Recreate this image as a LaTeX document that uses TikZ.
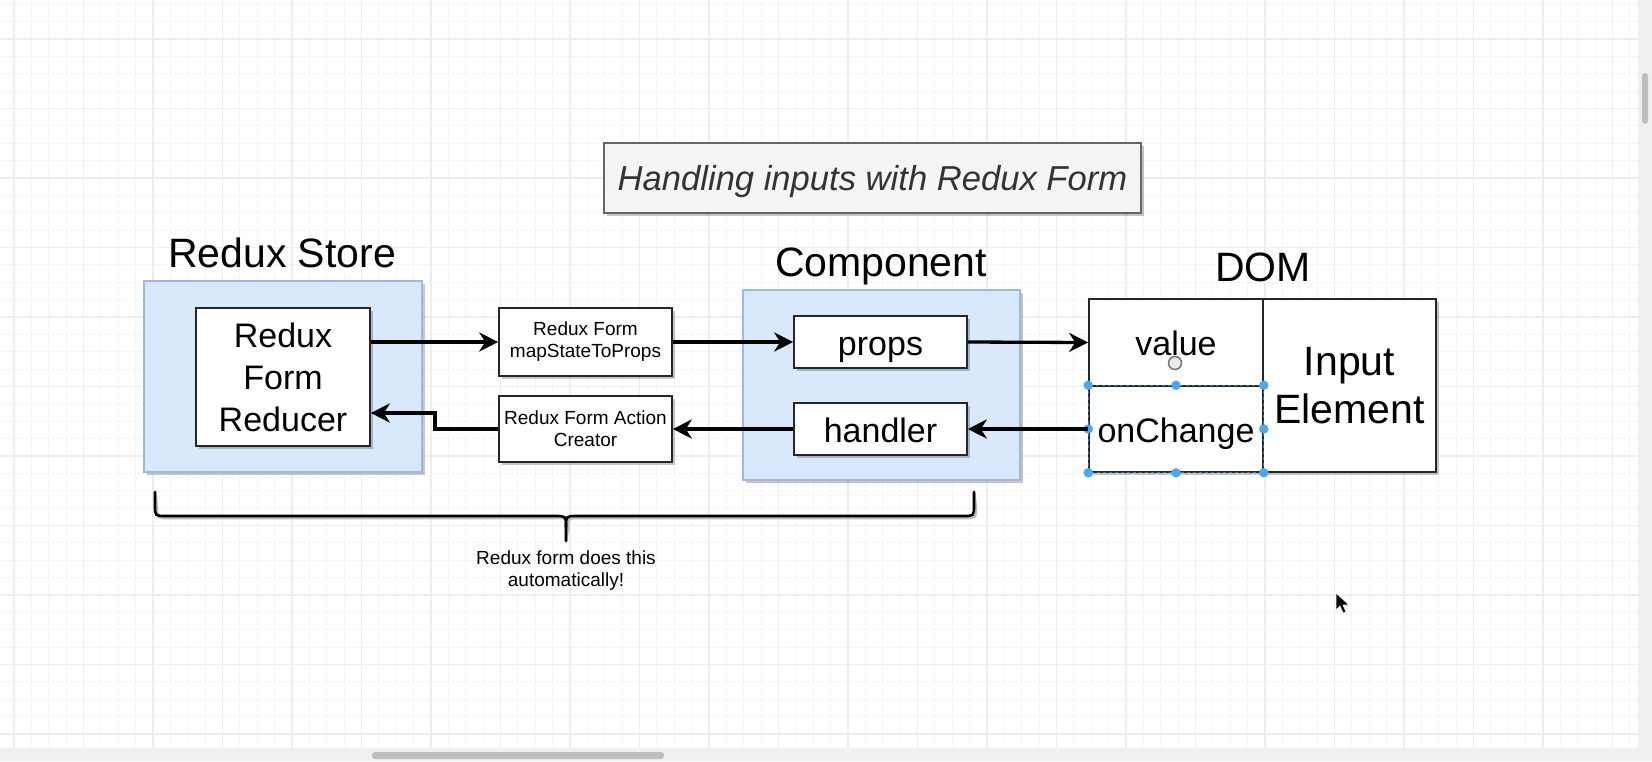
\documentclass[tikz,border=0pt]{standalone}
\usepackage{fontspec}
\setmainfont{Liberation Sans}
\usetikzlibrary{arrows.meta,shadows,calc}
\definecolor{bluefill}{HTML}{DAE8FC}
\definecolor{blueline}{HTML}{9DB9E0}
\definecolor{gridminor}{HTML}{F6F6F6}
\definecolor{gridmajor}{HTML}{EEEEEE}
\definecolor{selblue}{HTML}{4DA6F0}
\definecolor{titlegray}{HTML}{333333}
\begin{document}
\begin{tikzpicture}[x=1pt,y=-1pt,
  shad/.style={drop shadow={shadow xshift=3pt,shadow yshift=-3pt,opacity=.22,fill=black}},
  container/.style={draw=blueline,fill=bluefill,line width=1.4pt,inner sep=0pt,shad},
  whitebox/.style={draw=black!85,fill=white,line width=1.6pt,inner sep=0pt,align=center,shad},
  cell/.style={draw=black!85,line width=1.6pt,inner sep=0pt,align=center},
  bigtitle/.style={font=\fontsize{41}{48}\selectfont,anchor=base,inner sep=0pt},
  midtext/.style={font=\fontsize{34}{42}\selectfont},
  oneline/.style={text height=26pt,text depth=0pt},
  smalltext/.style={font=\fontsize{19}{22}\selectfont},
  flow/.style={line width=3.3pt,-{Stealth[length=19pt,width=19pt,inset=6pt]}},
  handle/.style={fill=selblue,draw=none,circle,minimum size=9.5pt,inner sep=0pt}
]
\useasboundingbox (0,0) rectangle (1652,761);
\fill[white] (0,0) rectangle (1652,761);
% grid
\begin{scope}
\clip (0,0) rectangle (1638,748);
\foreach \i in {0,...,96} {
  \draw[gridminor,line width=1pt] ({-3.375+17.375*\i},0) -- ({-3.375+17.375*\i},748);
}
\foreach \i in {0,...,44} {
  \draw[gridminor,line width=1pt] (0,{4.25+17.375*\i}) -- (1638,{4.25+17.375*\i});
}
\foreach \i in {0,...,24} {
  \draw[gridmajor,line width=1.2pt] ({14+69.5*\i},0) -- ({14+69.5*\i},748);
}
\foreach \i in {0,...,11} {
  \draw[gridmajor,line width=1.2pt] (0,{39+69.5*\i}) -- (1638,{39+69.5*\i});
}
\end{scope}
% scrollbars
\fill[black!6] (1638,0) rectangle (1652,748);
\fill[black!6] (0,748) rectangle (1652,761);
\fill[black!25,rounded corners=3pt] (1642,73) rectangle (1648,124);
\fill[black!25,rounded corners=3pt] (372,752) rectangle (664,759);

% title
\node[draw=black!60,fill=black!4,line width=1.3pt,shad,minimum width=537,minimum height=70,inner sep=0pt,
  text height=25pt,text depth=0pt,
  font=\fontsize{34.6}{40}\selectfont\itshape,text=titlegray] (title) at (872.5,178) {Handling inputs with Redux Form};

% containers
\node[container,minimum width=278,minimum height=191] (store) at (283,376.5) {};
\node[container,minimum width=277,minimum height=190] (comp) at (881.5,385) {};

% titles
\node[bigtitle] (storet) at (282,267) {Redux Store};
\node[bigtitle] (compt) at (881,276) {Component};
\node[bigtitle] (domt) at (1263,281) {DOM};

% boxes
\node[whitebox,midtext,minimum width=174,minimum height=138] (reducer) at (283,377) {Redux\\Form\\Reducer};
\node[whitebox,smalltext,minimum width=173,minimum height=68] (map) at (585.5,342) {\raisebox{-3pt}{Redux Form}\\\raisebox{-3pt}{mapStateToProps}};
\node[whitebox,smalltext,minimum width=173,minimum height=66] (creator) at (585.5,429) {Redux Form Action\\Creator};
\node[whitebox,midtext,oneline,minimum width=173,minimum height=52] (props) at (880.5,342) {props};
\node[whitebox,midtext,oneline,minimum width=173,minimum height=52] (handler) at (880.5,429) {handler};

% DOM element
\path[shad,fill=white] (1089,299) rectangle (1436,472);
\node[cell,midtext,oneline,minimum width=174,minimum height=87] (value) at (1176,342.5) {value};
\node[cell,midtext,oneline,minimum width=174,minimum height=86] (onchange) at (1176,429) {onChange};
\node[cell,font=\fontsize{41}{48}\selectfont,minimum width=173,minimum height=173] (input) at (1349.5,385.5) {Input\\Element};

% selection around onChange
\draw[selblue!70!black,line width=1pt,dashed] (onchange.north west) rectangle (onchange.south east);
\foreach \p in {north west,north,north east,west,east,south west,south,south east} {
  \node[handle] at (onchange.\p) {};
}
% mouse hover ring
\draw[black!55,fill=black!8,line width=1.5pt] (1175,363) circle (6.5);

% connectors
\coordinate (elb) at (435,413);
\draw[flow] (reducer.east |- map.west) -- (map.west);
\draw[flow] (map.east) -- (props.west);
\draw[flow] (props.east) -- (value.west);
\draw[flow] (onchange.west) -- (handler.east);
\draw[flow] (handler.west) -- (creator.east);
\draw[flow] (creator.west) -| (elb) -- (reducer.east |- elb);

% brace
\coordinate (bl) at (155,492);
\coordinate (br) at (974,492);
\coordinate (btip) at (566,541);
\begin{scope}[line width=2.6pt,line cap=round]
\draw[black!25,shift={(2,2)}] (bl) -- (155,505) .. controls (155,516) .. (166,516) -- (555,516) .. controls (566,516) .. (566,527) -- (btip);
\draw[black!25,shift={(2,2)}] (br) -- (974,505) .. controls (974,516) .. (963,516) -- (577,516) .. controls (566,516) .. (566,527);
\draw (bl) -- (155,505) .. controls (155,516) .. (166,516) -- (555,516) .. controls (566,516) .. (566,527) -- (btip);
\draw (br) -- (974,505) .. controls (974,516) .. (963,516) -- (577,516) .. controls (566,516) .. (566,527);
\end{scope}
\node[smalltext,align=center,anchor=north,inner sep=0pt] (note) at (566,551) {Redux form does this\\automatically!};

% mouse pointer
\filldraw[fill=black,draw=white,line width=0.6pt] (1336,593) -- (1336,610) -- (1340,606) -- (1343,613) -- (1346,612) -- (1343,605) -- (1349,605) -- cycle;
\end{tikzpicture}
\end{document}
